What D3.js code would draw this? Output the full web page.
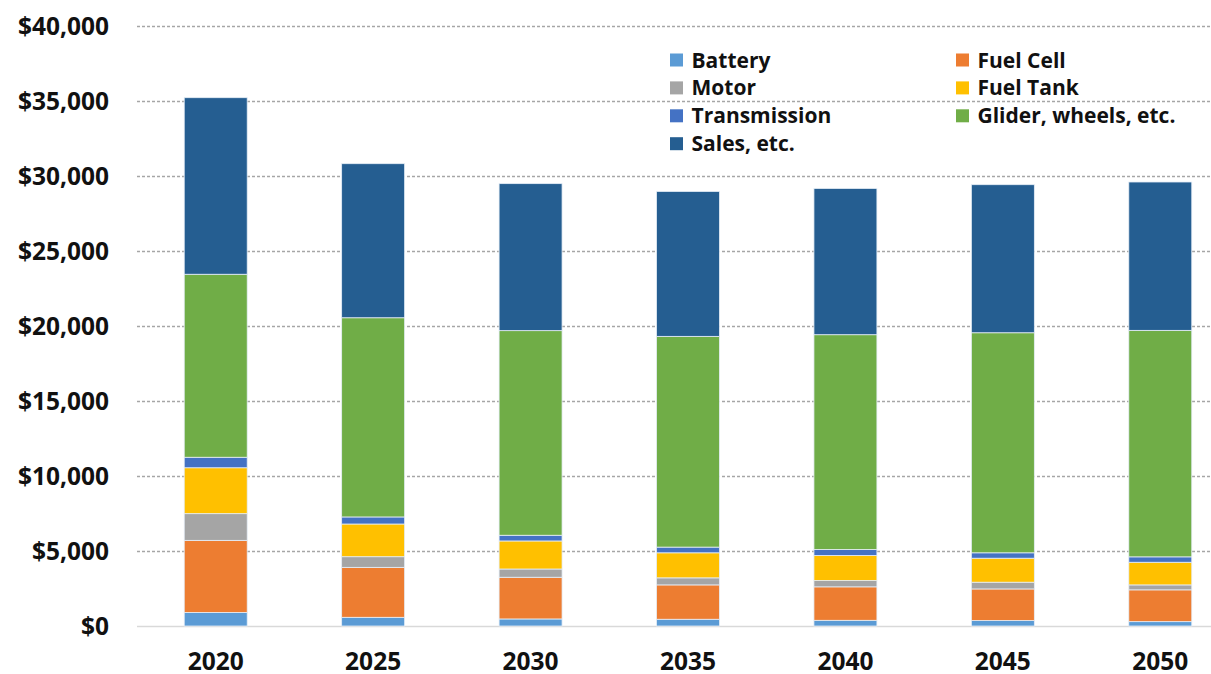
<!DOCTYPE html>
<html lang="en">
<head>
  <meta charset="utf-8">
  <title>Vehicle cost breakdown</title>
  <script src="https://d3js.org/d3.v7.min.js"></script>
  <style>
    body {
      margin: 0;
      background: #ffffff;
      font-family: "Open Sans", "Liberation Sans", Arial, sans-serif;
    }
    svg { display: block; }
    .tick-label {
      font-weight: 700;
      font-size: 24.5px;
      fill: #111;
    }
    .legend-label {
      font-weight: 700;
      font-size: 21px;
      fill: #111;
    }
  </style>
</head>
<body>
<script>
// values, dollars
var years = ["2020", "2025", "2030", "2035", "2040", "2045", "2050"];
var battery      = [900, 580, 470, 450, 380, 360, 290];
var fuelCell     = [4810, 3330, 2780, 2290, 2230, 2110, 2120];
var motor        = [1780, 710, 550, 470, 420, 450, 330];
var fuelTank     = [3060, 2180, 1870, 1670, 1670, 1600, 1510];
var transmission = [700, 470, 380, 380, 400, 360, 360];
var glider       = [12200, 13280, 13640, 14050, 14320, 14670, 15100];
var sales        = [11770, 10270, 9800, 9660, 9750, 9870, 9890];
var yTicks = [0, 5000, 10000, 15000, 20000, 25000, 30000, 35000, 40000];

var series = [
  { name: "Battery", values: battery, color: "#5b9bd5" },
  { name: "Fuel Cell", values: fuelCell, color: "#ed7d31" },
  { name: "Motor", values: motor, color: "#a5a5a5" },
  { name: "Fuel Tank", values: fuelTank, color: "#ffc000" },
  { name: "Transmission", values: transmission, color: "#4472c4" },
  { name: "Glider, wheels, etc.", values: glider, color: "#70ad47" },
  { name: "Sales, etc.", values: sales, color: "#255e91" }
];

var width = 1211, height = 674;
var plotLeft = 137, plotRight = 1239, plotTop = 26, plotBottom = 626;

var rows = years.map(function(y, i) {
  var r = { year: y };
  series.forEach(function(s) { r[s.name] = s.values[i]; });
  return r;
});

var stack = d3.stack().keys(series.map(function(s) { return s.name; }));
var layers = stack(rows);

var x = d3.scaleBand()
    .domain(years)
    .range([plotLeft, plotRight])
    .paddingInner(0.6)
    .paddingOuter(0.3);

var y = d3.scaleLinear()
    .domain([0, 40000])
    .range([plotBottom, plotTop]);

var svg = d3.select("body").append("svg")
    .attr("width", width)
    .attr("height", height);

// gridlines
svg.append("g")
  .selectAll("line")
  .data(yTicks.filter(function(t) { return t > 0; }))
  .enter().append("line")
    .attr("x1", plotLeft)
    .attr("x2", width)
    .attr("y1", function(d) { return y(d) + 0.5; })
    .attr("y2", function(d) { return y(d) + 0.5; })
    .style("stroke", "#a6a6a6")
    .style("stroke-width", 1.3)
    .style("stroke-dasharray", "3,2");

// baseline
svg.append("line")
    .attr("x1", plotLeft)
    .attr("x2", width)
    .attr("y1", y(0) + 0.5)
    .attr("y2", y(0) + 0.5)
    .style("stroke", "#d9d9d9")
    .style("stroke-width", 1.5);

var colorOf = {};
series.forEach(function(s) { colorOf[s.name] = s.color; });

svg.append("g")
  .selectAll("g")
  .data(layers)
  .enter().append("g")
    .style("fill", function(d) { return colorOf[d.key]; })
  .selectAll("rect")
  .data(function(d) { return d; })
  .enter().append("rect")
    .attr("x", function(d) { return x(d.data.year); })
    .attr("width", x.bandwidth())
    .attr("y", function(d) { return y(d[1]); })
    .attr("height", function(d) { return y(d[0]) - y(d[1]); })
    .style("stroke", "#e6eef7")
    .style("stroke-width", 0.8);

// y axis labels
var fmt = d3.format(",");
svg.append("g")
  .selectAll("text")
  .data(yTicks)
  .enter().append("text")
    .attr("class", "tick-label")
    .attr("x", 109)
    .attr("y", function(d) { return y(d); })
    .attr("dy", "0.36em")
    .attr("text-anchor", "end")
    .text(function(d) { return "$" + fmt(d); });

// x axis labels
svg.append("g")
  .selectAll("text")
  .data(years)
  .enter().append("text")
    .attr("class", "tick-label")
    .attr("x", function(d) { return x(d) + x.bandwidth() / 2; })
    .attr("y", 670)
    .attr("text-anchor", "middle")
    .text(function(d) { return d; });

// legend, two columns filled row by row
var legend = svg.append("g");
var item = legend.selectAll("g")
  .data(series)
  .enter().append("g")
    .attr("transform", function(d, i) {
      var col = i % 2, row = Math.floor(i / 2);
      return "translate(" + (col ? 956 : 670) + "," + (60 + row * 27.9) + ")";
    });

item.append("rect")
    .attr("x", 0)
    .attr("y", -6.5)
    .attr("width", 13)
    .attr("height", 13)
    .style("fill", function(d) { return d.color; });

item.append("text")
    .attr("class", "legend-label")
    .attr("x", 21.5)
    .attr("dy", "0.36em")
    .text(function(d) { return d.name; });
</script>
</body>
</html>
